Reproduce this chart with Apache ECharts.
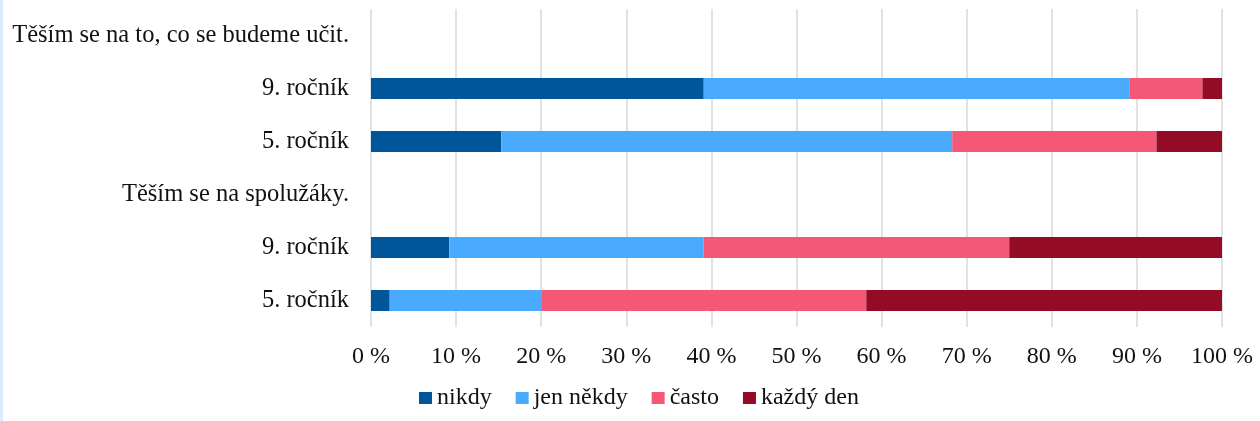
<!DOCTYPE html>
<html>
<head>
<meta charset="utf-8">
<script src="https://cdn.jsdelivr.net/npm/echarts@6/dist/echarts.min.js"></script>
<style>
html,body{margin:0;padding:0;background:#fff;}
#strip{position:absolute;left:0;top:0;width:3px;height:421px;background:#dcebfb;}
#chart{width:1260px;height:421px;}
</style>
</head>
<body>
<div id="strip"></div>
<div id="chart"></div>
<script>
const categories = ["Těším se na to, co se budeme učit.", "9. ročník", "5. ročník", "Těším se na spolužáky.", "9. ročník", "5. ročník"];
const seriesNames = ["nikdy", "jen někdy", "často", "každý den"];
const nikdy = ["-", 39.1, 15.3, "-", 9.2, 2.2];
const jenNekdy = ["-", 50.0, 53.0, "-", 29.9, 17.8];
const casto = ["-", 8.6, 24.0, "-", 35.9, 38.2];
const kazdyDen = ["-", 2.3, 7.7, "-", 25.0, 41.8];
const xTicks = [0, 10, 20, 30, 40, 50, 60, 70, 80, 90, 100];

const colors = ["#00569b", "#4aabfe", "#f45876", "#930b25"];
const values = [nikdy, jenNekdy, casto, kazdyDen];
const font = "Liberation Serif";

const chart = echarts.init(document.getElementById('chart'), null, {renderer: 'canvas'});
chart.setOption({
  animation: false,
  textStyle: {fontFamily: font},
  grid: {left: 371, right: 38, top: 9, bottom: 94, containLabel: false},
  legend: {
    data: seriesNames,
    top: 381,
    left: 414,
    itemWidth: 13,
    itemHeight: 12,
    itemGap: 24,
    icon: 'rect',
    textStyle: {fontFamily: font, fontSize: 24, color: '#111'}
  },
  xAxis: {
    type: 'value',
    min: xTicks[0],
    max: xTicks[xTicks.length - 1],
    interval: 10,
    axisLine: {show: false},
    axisTick: {show: false},
    splitLine: {show: true, lineStyle: {color: '#d9d9d9', width: 1.5}},
    axisLabel: {
      fontFamily: font, fontSize: 24, color: '#111', margin: 18,
      formatter: v => v + ' %'
    }
  },
  yAxis: {
    type: 'category',
    inverse: true,
    data: categories,
    axisLine: {show: false},
    axisTick: {show: false},
    axisLabel: {fontFamily: font, fontSize: 24.5, color: '#111', margin: 22, align: 'right'}
  },
  series: seriesNames.map((name, i) => ({
    name: name,
    type: 'bar',
    stack: 'total',
    barWidth: 21,
    itemStyle: {color: colors[i]},
    data: values[i]
  }))
});
</script>
</body>
</html>
